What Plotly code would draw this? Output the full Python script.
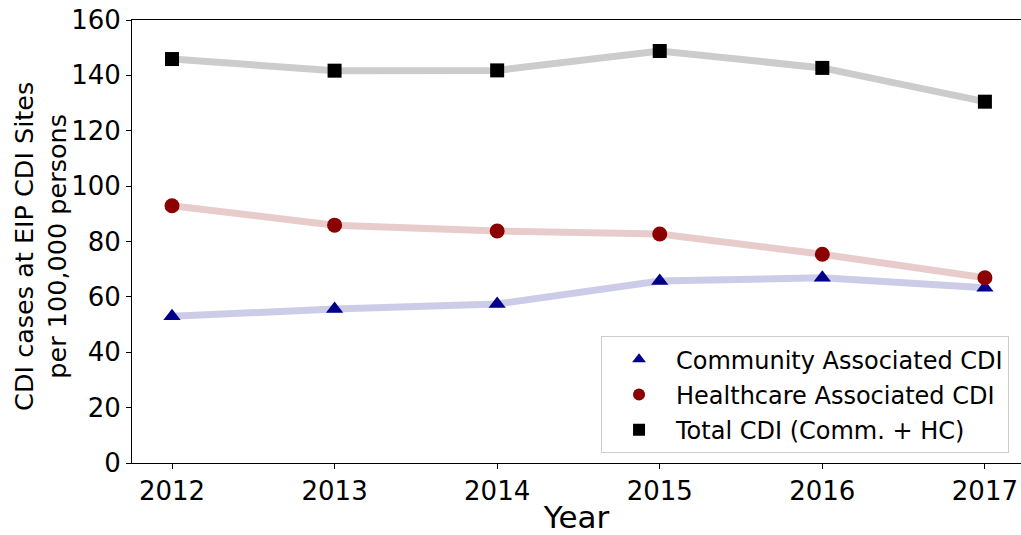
import plotly.graph_objects as go

# CDI incidence at EIP sites, cases per 100,000 persons
years = [2012, 2013, 2014, 2015, 2016, 2017]
community = [53.0, 55.6, 57.4, 65.7, 66.9, 63.3]
healthcare = [92.9, 85.9, 83.8, 82.7, 75.4, 66.9]
total = [145.9, 141.7, 141.8, 148.8, 142.7, 130.5]

series_names = [
    "Community Associated CDI",
    "Healthcare Associated CDI",
    "Total CDI (Comm. + HC)",
]
y_ticks = [0, 20, 40, 60, 80, 100, 120, 140, 160]
y_title = "CDI cases at EIP CDI Sites<br>per 100,000 persons"

FONT = "DejaVu Sans"

styles = [
    (community, series_names[0], "#00008b", "rgba(0,0,139,0.2)", "triangle-up", 15),
    (healthcare, series_names[1], "#8b0000", "rgba(139,0,0,0.2)", "circle", 15),
    (total, series_names[2], "#000000", "rgba(0,0,0,0.2)", "square", 14),
]

fig = go.Figure()

# faint connecting lines drawn underneath
for vals, name, mcol, lcol, sym, size in styles:
    fig.add_trace(go.Scatter(
        x=years, y=vals, mode="lines",
        line=dict(color=lcol, width=7),
        showlegend=False, hoverinfo="skip",
    ))

# solid markers on top, these carry the legend entries
for i, (vals, name, mcol, lcol, sym, size) in enumerate(styles):
    fig.add_trace(go.Scatter(
        x=years, y=vals, mode="markers", name=name,
        marker=dict(color=mcol, symbol=sym, size=size, line=dict(width=0)),
        legendgroup=f"g{i}",
    ))

fig.update_layout(
    width=1021, height=535,
    margin=dict(l=132, r=0, t=20, b=72),
    plot_bgcolor="white", paper_bgcolor="white",
    font=dict(family=FONT, size=26, color="black"),
    legend=dict(
        x=0.5276, y=0.022, xanchor="left", yanchor="bottom",
        bgcolor="white", bordercolor="#cccccc", borderwidth=1,
        font=dict(family=FONT, size=24, color="black"),
        tracegroupgap=1,
        itemwidth=64,
        itemsizing="constant",
    ),
    annotations=[dict(
        text=y_title, textangle=-90,
        xref="paper", yref="paper", x=-0.1024, y=0.49,
        xanchor="center", yanchor="middle", showarrow=False,
        font=dict(family=FONT, size=25.5, color="black"),
    )],
)

fig.update_xaxes(
    range=[2011.754, 2017.222],
    tickmode="array", tickvals=years, ticktext=[str(y) for y in years],
    ticks="outside", ticklen=5, tickwidth=1, tickcolor="black",
    showline=True, linecolor="black", linewidth=1, mirror=True,
    showgrid=False, zeroline=False,
    tickfont=dict(family=FONT, size=26),
    title=dict(text="Year", font=dict(family=FONT, size=31), standoff=7),
)

fig.update_yaxes(
    range=[0, 160],
    tickmode="array", tickvals=y_ticks,
    ticks="outside", ticklen=5, tickwidth=1, tickcolor="black",
    showline=True, linecolor="black", linewidth=1,
    showgrid=False, zeroline=False,
    tickfont=dict(family=FONT, size=26),
)

fig.write_html("out.html")
